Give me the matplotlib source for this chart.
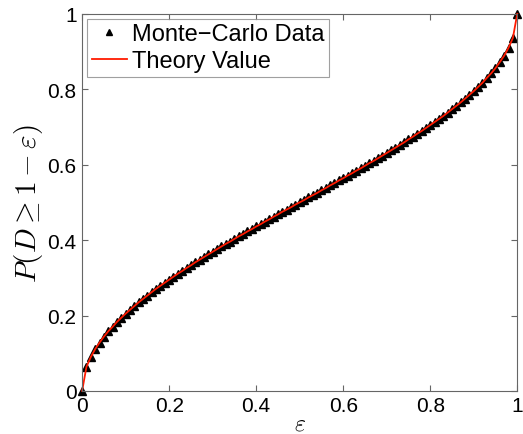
import numpy as np
import matplotlib
matplotlib.use("Agg")
import matplotlib.pyplot as plt

plt.rcParams['font.family'] = ['Liberation Sans', 'DejaVu Sans']
plt.rcParams['mathtext.fontset'] = 'cm'

# epsilon grid (0, 0.01, ..., 1) and probabilities
eps = [i / 100 for i in range(101)]
p_mc = [
    0.000, 0.064, 0.090, 0.111, 0.128, 0.144, 0.158, 0.170, 0.183, 0.194, 0.205,
    0.215, 0.225, 0.235, 0.244, 0.253, 0.262, 0.271, 0.279, 0.287, 0.295,
    0.303, 0.311, 0.318, 0.326, 0.333, 0.341, 0.348, 0.355, 0.362, 0.369,
    0.376, 0.383, 0.390, 0.396, 0.403, 0.410, 0.416, 0.423, 0.429, 0.436,
    0.442, 0.449, 0.455, 0.462, 0.468, 0.475, 0.481, 0.487, 0.494, 0.500,
    0.506, 0.513, 0.519, 0.525, 0.532, 0.538, 0.545, 0.551, 0.558, 0.564,
    0.571, 0.577, 0.584, 0.590, 0.597, 0.604, 0.610, 0.617, 0.624, 0.631,
    0.638, 0.645, 0.652, 0.659, 0.667, 0.674, 0.682, 0.689, 0.697, 0.705,
    0.713, 0.721, 0.729, 0.738, 0.747, 0.756, 0.765, 0.775, 0.785, 0.795,
    0.806, 0.817, 0.830, 0.842, 0.856, 0.872, 0.889, 0.910, 0.936, 1.000,
]
p_theory = p_mc

ticks = [0, 0.2, 0.4, 0.6, 0.8, 1]
tick_labels = ['0', '0.2', '0.4', '0.6', '0.8', '1']

fig = plt.figure(figsize=(5.23, 4.35), dpi=100)
ax = fig.add_axes([0.157, 0.099, 0.832, 0.867])

ax.plot(eps, p_mc, '^', color='black', markersize=5.5, label='Monte\u2212Carlo Data')
ax.plot(eps, p_theory, '-', color='#ff1a00', linewidth=1.3, label='Theory Value')

ax.set_xlim(0, 1)
ax.set_ylim(0, 1)
ax.set_xticks(ticks)
ax.set_xticklabels(tick_labels)
ax.set_yticks(ticks)
ax.set_yticklabels(tick_labels)
ax.tick_params(direction='in', top=True, right=True, labelsize=15, length=4,
               color='#666666', pad=4)
for s in ax.spines.values():
    s.set_color('#666666')
    s.set_linewidth(0.8)
for m in ax.get_lines():
    m.set_clip_on(False)

ax.set_xlabel(r'$\varepsilon$', fontsize=17, labelpad=-2)
ax.set_ylabel(r'$P(D \geq 1-\varepsilon)$', fontsize=21, labelpad=2)

leg = ax.legend(loc='upper left', fontsize=17, frameon=True, fancybox=False,
                borderpad=0.2, handlelength=1.5, handletextpad=0.2,
                labelspacing=0.2, borderaxespad=0.2, markerscale=0.8)
leg.get_frame().set_edgecolor('#888888')
leg.get_frame().set_linewidth(0.8)

fig.savefig('out.png', dpi=100)
